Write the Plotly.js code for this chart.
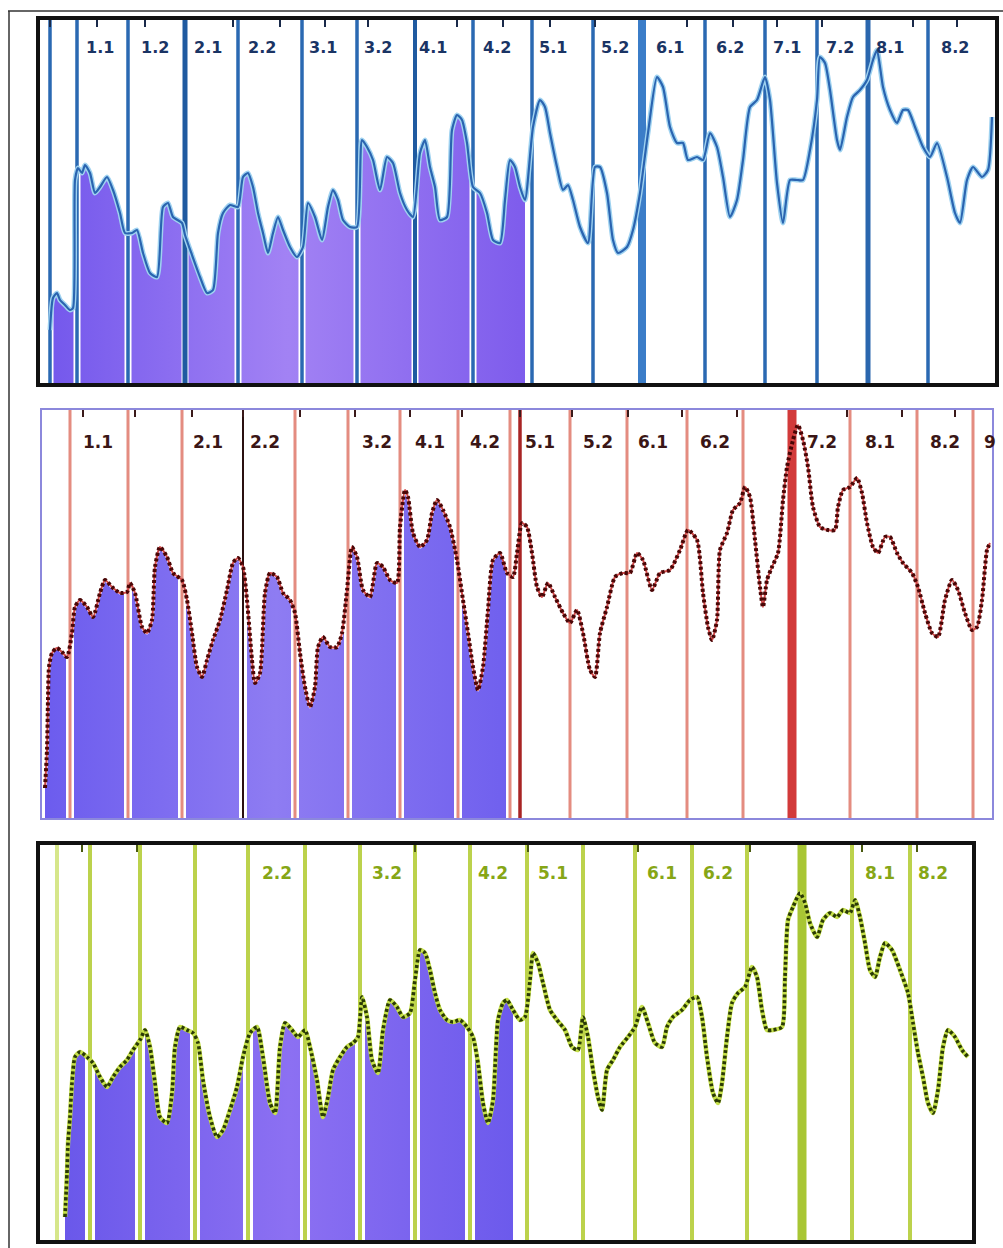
<!DOCTYPE html>
<html><head><meta charset="utf-8">
<script src="https://cdn.plot.ly/plotly-3.0.1.min.js"></script>
<style>html,body{margin:0;padding:0;background:#fff}#chart{width:1003px;height:1248px}</style>
</head><body><div id="chart"></div>
<script>
// ---------------- DATA ----------------
// Panel 1 (blue, line)
const p1Time = [50,53,57,60,65,70,73,75,78,82,85,90,95,100,107,113,120,125,132,137,143,150,157,163,168,173,182,185,192,200,207,213,218,223,230,238,243,248,253,258,263,268,273,278,283,290,297,303,308,315,322,328,333,338,343,350,357,362,367,373,380,387,393,400,407,413,420,425,430,435,440,447,452,457,462,467,473,480,487,493,500,505,510,515,520,525,533,540,545,550,557,563,568,573,580,588,595,600,607,613,618,627,633,640,648,657,663,670,677,683,688,697,703,710,717,723,730,737,743,750,757,765,770,777,783,790,797,803,810,817,820,825,830,837,840,847,853,860,867,873,877,883,890,897,903,908,915,923,930,937,947,955,960,967,973,982,988,992];
const p1Value = [53,85,90,83,78,73,75,203,215,210,218,210,190,196,206,193,170,150,150,153,130,110,106,176,180,166,160,148,128,106,90,93,150,170,178,176,206,210,196,170,150,130,150,166,153,136,126,136,180,166,143,176,193,183,163,156,156,243,236,223,193,226,220,190,173,166,230,243,216,196,163,166,253,268,263,240,196,190,170,143,140,183,223,216,196,183,256,283,276,250,216,193,198,183,156,140,216,216,190,143,130,136,153,190,250,306,296,256,240,240,223,226,223,250,236,206,166,183,223,276,283,306,283,200,160,203,203,203,233,283,326,320,293,243,233,266,286,293,303,323,333,296,273,260,273,273,256,236,226,240,206,170,160,203,216,206,213,266];
const p1FillEnd = 525;
const p1Bounds = [50,77,128,185,238,302,357,415,473,532,593,642,705,765,817,868,928];
const p1TopTicks = [50,97,145,233,280,325,368,457,503,550,595,687,733,777,822,913,957];
const p1Labels = ["1.1","1.2","2.1","2.2","3.1","3.2","4.1","4.2","5.1","5.2","6.1","6.2","7.1","7.2","8.1","8.2"];
const p1LabelTime = [100,155,208,262,323,378,433,497,553,615,670,730,787,840,890,955];

// Panel 2 (red, dotted)
const p2Time = [45,47,48,49,52,57,62,67,72,75,80,87,93,100,105,112,120,127,130,135,142,147,152,155,160,167,173,182,187,192,197,202,207,213,220,227,233,238,243,247,252,255,260,265,270,277,283,290,295,300,305,310,315,318,323,330,337,342,347,352,357,363,370,377,383,390,397,400,405,408,413,420,427,432,437,443,450,457,463,468,473,478,483,488,493,500,507,513,517,522,527,532,537,542,548,555,563,570,577,583,590,595,600,607,615,623,630,637,643,652,660,670,680,688,697,703,708,712,717,720,727,733,740,745,750,755,760,763,767,772,778,783,787,793,798,803,808,813,820,828,835,838,843,850,857,862,867,873,878,885,890,897,903,912,918,925,932,938,945,952,958,965,972,977,982,987,990];
const p2Value = [30,68,118,151,165,170,166,161,185,211,218,211,201,225,238,231,225,226,235,225,191,185,198,251,271,261,245,238,218,185,151,141,158,178,198,228,255,260,251,218,158,135,145,225,245,241,225,218,205,165,131,111,131,171,181,171,171,185,228,271,261,228,221,255,251,238,235,291,328,321,285,271,278,305,318,308,291,258,218,185,151,128,151,208,258,265,245,241,265,295,291,265,231,221,235,221,205,195,208,185,148,141,185,211,241,245,245,265,258,228,245,248,268,288,278,225,191,178,198,268,285,308,315,331,321,278,231,211,238,251,265,318,351,378,393,378,351,311,291,288,288,311,328,331,340,325,295,271,265,281,281,265,255,245,231,205,185,181,218,238,228,205,188,191,218,268,275];
const p2FillEnd = 510;
const p2Bounds = [70,128,182,243,295,348,400,458,510,520,570,627,687,743,792,850,917,973];
const p2TopTicks = [83,135,192,243,300,355,410,462,520,572,628,682,737,847,902,955];
const p2Labels = ["1.1","2.1","2.2","3.2","4.1","4.2","5.1","5.2","6.1","6.2","7.2","8.1","8.2","9"];
const p2LabelTime = [98,208,265,377,430,485,540,598,653,715,822,880,945,990];

// Panel 3 (green, dotted)
const p3Time = [65,67,68,70,72,75,80,87,93,100,107,113,120,127,133,140,145,150,155,160,167,172,175,180,187,193,198,203,210,217,223,230,237,243,250,257,263,270,275,280,285,292,298,305,310,317,323,328,333,340,347,353,358,362,367,372,378,383,390,397,403,410,415,420,425,430,435,440,447,453,460,467,473,478,483,488,493,498,503,507,513,520,525,530,533,538,543,550,557,565,572,578,583,588,593,598,602,607,613,620,628,635,642,648,655,662,667,673,682,690,697,702,707,713,718,722,727,732,738,745,752,757,762,767,773,782,785,788,793,800,805,810,817,823,830,837,843,850,855,860,865,870,875,880,885,892,900,908,913,918,923,928,933,938,943,948,955,962,968];
const p3Value = [23,67,97,123,157,183,188,183,177,163,153,163,173,180,190,200,210,193,157,123,117,147,193,213,210,207,197,160,123,103,110,130,153,183,207,213,183,137,127,193,217,210,203,210,193,160,123,143,170,183,193,197,203,243,223,180,167,210,240,233,223,227,260,290,287,270,247,230,220,218,220,213,203,177,137,117,140,220,237,240,230,220,223,260,287,277,257,230,220,210,193,190,223,203,170,143,130,170,180,193,203,213,233,217,197,193,213,223,230,240,243,223,183,147,137,157,203,237,247,253,273,263,230,210,210,213,263,320,333,347,337,317,303,320,327,323,330,327,340,323,297,270,263,283,297,290,270,247,217,187,163,137,127,150,193,210,203,190,183];
const p3FillEnd = 517;
const p3Bounds = [57,90,140,195,248,305,360,415,470,527,583,635,692,747,802,852,910];
const p3TopTicks = [82,137,415,528,638,750,862,917];
const p3Labels = ["2.2","3.2","4.2","5.1","6.1","6.2","8.1","8.2"];
const p3LabelTime = [277,387,493,553,662,718,880,933];

// ---------------- STYLE / LAYOUT ----------------
const W = 1003, H = 1248;
const panels = [
  {time:p1Time, val:p1Value, fillEnd:p1FillEnd, bounds:p1Bounds, ticks:p1TopTicks, labels:p1Labels, labelT:p1LabelTime,
   px:[40,995], py:[20,383], frame:'#111', frameW:4, tickColor:'#1a2a4a',
   boundColor:'#2a69b2', boundW:3.5, boundSpecial:{185:['#1f5aa0',5], 642:['#3b7dc8',8], 868:['#2a66ae',5], 415:['#1f5aa0',4]},
   halo:7, fillLine:'#c8eefc',
   grad:[[0,'#7458ec'],[0.5,'#a282f4'],[1,'#7e5cec']],
   curve:{dotted:false, under:'#9fd2f0', underW:5, color:'#2a64b0', w:2.2},
   labelColor:'#1a3464', labelSize:16},
  {time:p2Time, val:p2Value, fillEnd:p2FillEnd, bounds:p2Bounds, ticks:p2TopTicks, labels:p2Labels, labelT:p2LabelTime,
   px:[42,992], py:[410,818], frame:'#8c88dc', frameW:2, tickColor:'#3a1a1a',
   boundColor:'#e48c80', boundW:3, boundSpecial:{243:['#2a1010',2], 520:['#a82424',3.5], 792:['#d23a3a',9]},
   halo:8, fillLine:'#ffffff',
   grad:[[0,'#6c5cee'],[0.5,'#8e7cf2'],[1,'#7060ee']],
   curve:{dotted:true, under:'#d04848', underW:2, color:'#4a0606', w:4},
   labelColor:'#3a1616', labelSize:17},
  {time:p3Time, val:p3Value, fillEnd:p3FillEnd, bounds:p3Bounds, ticks:p3TopTicks, labels:p3Labels, labelT:p3LabelTime,
   px:[40,972], py:[845,1240], frame:'#111', frameW:4, tickColor:'#4a5a10',
   boundColor:'#bcd24c', boundW:4, boundSpecial:{57:['#d6e68a',4], 802:['#a8c634',9]},
   halo:10, fillLine:'#ffffff',
   grad:[[0,'#6a58ea'],[0.5,'#8c70f2'],[1,'#6c5aec']],
   curve:{dotted:true, under:'#c6e04a', underW:4.5, color:'#2a3a06', w:3.6},
   labelColor:'#86a616', labelSize:17}
];

const traces = [];
const layout = {
  width:W, height:H, margin:{l:0,r:0,t:0,b:0}, paper_bgcolor:'#ffffff', plot_bgcolor:'#ffffff',
  showlegend:false, annotations:[], shapes:[
    {type:'line', xref:'paper', yref:'paper', x0:8/W, x1:1, y0:1-11/H, y1:1-11/H, line:{color:'#333', width:1.5}},
    {type:'line', xref:'paper', yref:'paper', x0:9/W, x1:9/W, y0:1-11/H, y1:0, line:{color:'#333', width:1.5}}
  ]
};

panels.forEach((p, i) => {
  const n = i === 0 ? '' : String(i+1);
  const xa = 'x'+n, ya = 'y'+n;
  const top = p.py[1] - p.py[0];
  layout['xaxis'+n] = {domain:[p.px[0]/W, p.px[1]/W], range:[p.px[0], p.px[1]], anchor:ya,
    side:'top', ticks:'inside', tickvals:p.ticks, ticklen:7, tickwidth:2, tickcolor:p.tickColor,
    showticklabels:false, showgrid:false, zeroline:false, showline:true, mirror:true,
    linecolor:p.frame, linewidth:p.frameW, fixedrange:true};
  layout['yaxis'+n] = {domain:[1-p.py[1]/H, 1-p.py[0]/H], range:[0, top], anchor:xa,
    showticklabels:false, ticks:'', showgrid:false, zeroline:false, showline:true, mirror:true,
    linecolor:p.frame, linewidth:p.frameW, fixedrange:true};

  const fx = [], fy = [];
  p.time.forEach((t, k) => { if (t <= p.fillEnd) { fx.push(t); fy.push(p.val[k]); } });
  traces.push({type:'scatter', mode:'lines', x:fx, y:fy, xaxis:xa, yaxis:ya, fill:'tozeroy',
    fillcolor:'#8068ee', fillgradient:{type:'horizontal', colorscale:p.grad},
    line:{color:p.fillLine, width:3, shape:'spline', smoothing:0.6}, hoverinfo:'skip'});

  const hx = [], hy = [];
  p.bounds.forEach(b => { hx.push(b, b, null); hy.push(0, top, null); });
  traces.push({type:'scatter', mode:'lines', x:hx, y:hy, xaxis:xa, yaxis:ya,
    line:{color:'#ffffff', width:p.halo}, hoverinfo:'skip'});
  const nx = [], ny = [];
  p.bounds.forEach(b => { if (!p.boundSpecial[b]) { nx.push(b, b, null); ny.push(0, top, null); } });
  traces.push({type:'scatter', mode:'lines', x:nx, y:ny, xaxis:xa, yaxis:ya,
    line:{color:p.boundColor, width:p.boundW}, hoverinfo:'skip'});
  Object.keys(p.boundSpecial).forEach(k => {
    const b = Number(k), st = p.boundSpecial[k];
    traces.push({type:'scatter', mode:'lines', x:[b, b], y:[0, top], xaxis:xa, yaxis:ya,
      line:{color:st[0], width:st[1]}, hoverinfo:'skip'});
  });

  traces.push({type:'scatter', mode:'lines', x:p.time, y:p.val, xaxis:xa, yaxis:ya,
    line:{color:p.curve.under, width:p.curve.underW, shape:'spline', smoothing:0.6}, hoverinfo:'skip'});
  traces.push({type:'scatter', mode:'lines', x:p.time, y:p.val, xaxis:xa, yaxis:ya,
    line:{color:p.curve.color, width:p.curve.w, shape:'spline', smoothing:0.6,
          dash:p.curve.dotted ? '3px,2.5px' : 'solid'}, hoverinfo:'skip'});

  const labY = top - (i === 1 ? 32 : 28);
  p.labels.forEach((txt, k) => {
    layout.annotations.push({xref:xa, yref:ya, x:p.labelT[k], y:labY, text:'<b>'+txt+'</b>',
      showarrow:false, xanchor:'center', yanchor:'middle',
      font:{family:'DejaVu Sans, Verdana, sans-serif', size:p.labelSize, color:p.labelColor}});
  });
});

Plotly.newPlot('chart', traces, layout, {displayModeBar:false, staticPlot:true});
</script></body></html>
